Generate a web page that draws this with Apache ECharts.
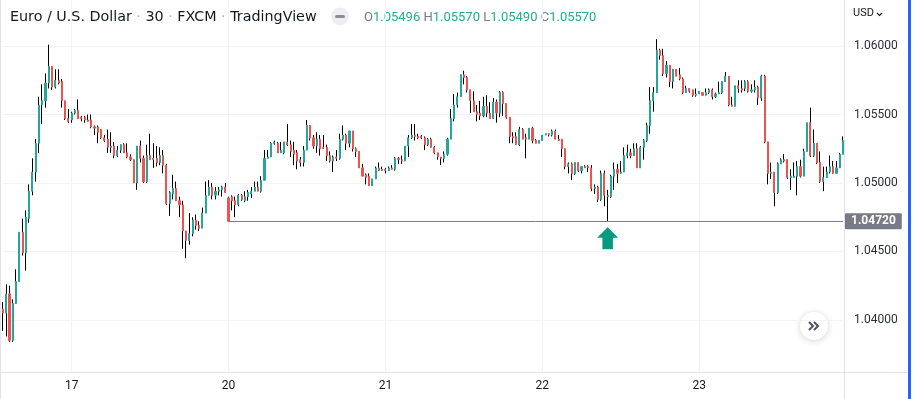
<!DOCTYPE html>
<html>
<head>
<meta charset="utf-8">
<title>EUR/USD 30</title>
<script src="https://cdn.jsdelivr.net/npm/echarts@6/dist/echarts.min.js"></script>
<style>
  html, body { margin: 0; padding: 0; background: #fff; }
  #chart { width: 913px; height: 399px; }
</style>
</head>
<body>
<div id="chart"></div>
<script>
// 30 min candles: [open, close, low, high]
const candles = [
  [1.0408, 1.0405, 1.0392, 1.0413], [1.0405, 1.0419, 1.0388, 1.0426], [1.0419, 1.0385, 1.0384, 1.0425], [1.0385, 1.0412, 1.0384, 1.0415],
  [1.0412, 1.0428, 1.0412, 1.0437], [1.0428, 1.0464, 1.0428, 1.0464], [1.0464, 1.0449, 1.0447, 1.0474], [1.0449, 1.0475, 1.0436, 1.0480],
  [1.0474, 1.0494, 1.0471, 1.0499], [1.0494, 1.0508, 1.0491, 1.0518], [1.0508, 1.0529, 1.0501, 1.0532], [1.0529, 1.0557, 1.0522, 1.0563],
  [1.0557, 1.0560, 1.0543, 1.0572], [1.0560, 1.0573, 1.0555, 1.0580], [1.0573, 1.0585, 1.0569, 1.0601], [1.0585, 1.0570, 1.0568, 1.0585],
  [1.0570, 1.0575, 1.0569, 1.0583], [1.0575, 1.0573, 1.0572, 1.0583], [1.0574, 1.0560, 1.0555, 1.0576], [1.0560, 1.0547, 1.0546, 1.0560],
  [1.0547, 1.0545, 1.0544, 1.0554], [1.0546, 1.0551, 1.0544, 1.0552], [1.0551, 1.0553, 1.0550, 1.0554], [1.0553, 1.0547, 1.0547, 1.0561],
  [1.0548, 1.0547, 1.0545, 1.0549], [1.0548, 1.0546, 1.0544, 1.0549], [1.0546, 1.0545, 1.0545, 1.0550], [1.0546, 1.0541, 1.0540, 1.0550],
  [1.0541, 1.0540, 1.0535, 1.0542], [1.0541, 1.0537, 1.0529, 1.0542], [1.0539, 1.0533, 1.0532, 1.0539], [1.0533, 1.0531, 1.0530, 1.0535],
  [1.0532, 1.0526, 1.0522, 1.0539], [1.0526, 1.0527, 1.0522, 1.0537], [1.0527, 1.0520, 1.0518, 1.0530], [1.0520, 1.0524, 1.0519, 1.0527],
  [1.0524, 1.0528, 1.0522, 1.0528], [1.0528, 1.0522, 1.0522, 1.0529], [1.0522, 1.0519, 1.0518, 1.0529], [1.0519, 1.0517, 1.0516, 1.0521],
  [1.0517, 1.0500, 1.0500, 1.0517], [1.0500, 1.0527, 1.0495, 1.0527], [1.0527, 1.0518, 1.0515, 1.0531], [1.0518, 1.0501, 1.0500, 1.0520],
  [1.0501, 1.0520, 1.0500, 1.0528], [1.0520, 1.0517, 1.0517, 1.0536], [1.0517, 1.0518, 1.0511, 1.0529], [1.0518, 1.0515, 1.0512, 1.0527],
  [1.0515, 1.0520, 1.0513, 1.0526], [1.0520, 1.0513, 1.0507, 1.0524], [1.0513, 1.0485, 1.0484, 1.0514], [1.0485, 1.0493, 1.0476, 1.0494],
  [1.0492, 1.0496, 1.0488, 1.0506], [1.0496, 1.0487, 1.0487, 1.0501], [1.0487, 1.0484, 1.0475, 1.0490], [1.0484, 1.0465, 1.0452, 1.0487],
  [1.0465, 1.0458, 1.0445, 1.0465], [1.0458, 1.0463, 1.0455, 1.0478], [1.0463, 1.0473, 1.0461, 1.0475], [1.0473, 1.0469, 1.0466, 1.0477],
  [1.0469, 1.0467, 1.0465, 1.0472], [1.0467, 1.0478, 1.0467, 1.0482], [1.0478, 1.0491, 1.0478, 1.0501], [1.0491, 1.0497, 1.0491, 1.0502],
  [1.0497, 1.0491, 1.0488, 1.0500], [1.0491, 1.0494, 1.0488, 1.0497], [1.0494, 1.0495, 1.0491, 1.0497], [1.0495, 1.0497, 1.0490, 1.0498],
  [1.0497, 1.0493, 1.0493, 1.0500], [1.0489, 1.0472, 1.0472, 1.0490], [1.0490, 1.0487, 1.0480, 1.0491], [1.0487, 1.0484, 1.0475, 1.0490],
  [1.0484, 1.0491, 1.0483, 1.0492], [1.0491, 1.0488, 1.0487, 1.0492], [1.0487, 1.0490, 1.0486, 1.0494], [1.0490, 1.0493, 1.0487, 1.0495],
  [1.0492, 1.0494, 1.0489, 1.0497], [1.0494, 1.0497, 1.0494, 1.0501], [1.0497, 1.0494, 1.0494, 1.0501], [1.0494, 1.0502, 1.0493, 1.0505],
  [1.0502, 1.0518, 1.0502, 1.0524], [1.0518, 1.0519, 1.0518, 1.0524], [1.0519, 1.0529, 1.0519, 1.0530], [1.0529, 1.0530, 1.0528, 1.0531],
  [1.0529, 1.0522, 1.0522, 1.0530], [1.0522, 1.0524, 1.0522, 1.0530], [1.0522, 1.0530, 1.0521, 1.0530], [1.0530, 1.0528, 1.0527, 1.0543],
  [1.0528, 1.0523, 1.0519, 1.0531], [1.0524, 1.0521, 1.0513, 1.0530], [1.0522, 1.0516, 1.0510, 1.0524], [1.0517, 1.0515, 1.0512, 1.0519],
  [1.0515, 1.0524, 1.0512, 1.0527], [1.0524, 1.0542, 1.0524, 1.0546], [1.0542, 1.0533, 1.0531, 1.0542], [1.0533, 1.0527, 1.0525, 1.0535],
  [1.0527, 1.0532, 1.0522, 1.0537], [1.0532, 1.0525, 1.0520, 1.0535], [1.0526, 1.0525, 1.0525, 1.0535], [1.0526, 1.0520, 1.0516, 1.0528],
  [1.0520, 1.0516, 1.0515, 1.0523], [1.0516, 1.0519, 1.0508, 1.0520], [1.0519, 1.0518, 1.0516, 1.0524], [1.0518, 1.0532, 1.0517, 1.0536],
  [1.0532, 1.0535, 1.0531, 1.0542], [1.0535, 1.0529, 1.0524, 1.0536], [1.0529, 1.0538, 1.0526, 1.0538], [1.0538, 1.0525, 1.0523, 1.0538],
  [1.0525, 1.0523, 1.0519, 1.0526], [1.0523, 1.0511, 1.0511, 1.0523], [1.0511, 1.0505, 1.0505, 1.0514], [1.0506, 1.0504, 1.0499, 1.0507],
  [1.0505, 1.0498, 1.0498, 1.0507], [1.0498, 1.0503, 1.0498, 1.0503], [1.0503, 1.0511, 1.0503, 1.0512], [1.0511, 1.0509, 1.0509, 1.0515],
  [1.0509, 1.0510, 1.0509, 1.0512], [1.0510, 1.0509, 1.0507, 1.0511], [1.0509, 1.0511, 1.0509, 1.0512], [1.0511, 1.0510, 1.0510, 1.0513],
  [1.0510, 1.0518, 1.0509, 1.0519], [1.0518, 1.0517, 1.0514, 1.0519], [1.0517, 1.0516, 1.0514, 1.0520], [1.0516, 1.0527, 1.0516, 1.0527],
  [1.0527, 1.0533, 1.0519, 1.0535], [1.0533, 1.0535, 1.0532, 1.0543], [1.0535, 1.0534, 1.0531, 1.0543], [1.0534, 1.0533, 1.0532, 1.0536],
  [1.0534, 1.0533, 1.0532, 1.0535], [1.0533, 1.0528, 1.0524, 1.0534], [1.0528, 1.0532, 1.0527, 1.0533], [1.0532, 1.0526, 1.0526, 1.0533],
  [1.0526, 1.0522, 1.0521, 1.0527], [1.0522, 1.0519, 1.0517, 1.0522], [1.0519, 1.0518, 1.0513, 1.0519], [1.0518, 1.0521, 1.0515, 1.0523],
  [1.0521, 1.0532, 1.0520, 1.0533], [1.0532, 1.0547, 1.0532, 1.0554], [1.0547, 1.0557, 1.0545, 1.0565], [1.0557, 1.0563, 1.0555, 1.0566],
  [1.0563, 1.0579, 1.0563, 1.0579], [1.0579, 1.0577, 1.0572, 1.0582], [1.0577, 1.0568, 1.0566, 1.0578], [1.0568, 1.0560, 1.0551, 1.0568],
  [1.0560, 1.0552, 1.0552, 1.0567], [1.0552, 1.0550, 1.0545, 1.0557], [1.0551, 1.0549, 1.0546, 1.0560], [1.0549, 1.0556, 1.0548, 1.0563],
  [1.0556, 1.0551, 1.0548, 1.0564], [1.0551, 1.0547, 1.0547, 1.0559], [1.0547, 1.0559, 1.0547, 1.0562], [1.0559, 1.0551, 1.0544, 1.0561],
  [1.0551, 1.0566, 1.0548, 1.0567], [1.0566, 1.0558, 1.0549, 1.0567], [1.0558, 1.0548, 1.0547, 1.0558], [1.0548, 1.0534, 1.0529, 1.0548],
  [1.0534, 1.0533, 1.0529, 1.0537], [1.0534, 1.0528, 1.0528, 1.0537], [1.0528, 1.0539, 1.0527, 1.0541], [1.0539, 1.0532, 1.0532, 1.0540],
  [1.0533, 1.0532, 1.0518, 1.0536], [1.0532, 1.0540, 1.0532, 1.0540], [1.0540, 1.0531, 1.0529, 1.0541], [1.0531, 1.0529, 1.0529, 1.0532],
  [1.0529, 1.0531, 1.0529, 1.0531], [1.0531, 1.0535, 1.0531, 1.0535], [1.0535, 1.0536, 1.0535, 1.0536], [1.0536, 1.0535, 1.0534, 1.0536],
  [1.0535, 1.0538, 1.0534, 1.0539], [1.0538, 1.0532, 1.0532, 1.0539], [1.0532, 1.0531, 1.0531, 1.0535], [1.0532, 1.0525, 1.0519, 1.0532],
  [1.0525, 1.0512, 1.0510, 1.0525], [1.0512, 1.0514, 1.0507, 1.0515], [1.0514, 1.0507, 1.0502, 1.0515], [1.0507, 1.0515, 1.0506, 1.0515],
  [1.0515, 1.0509, 1.0508, 1.0515], [1.0509, 1.0512, 1.0507, 1.0512], [1.0512, 1.0511, 1.0511, 1.0513], [1.0512, 1.0511, 1.0508, 1.0513],
  [1.0511, 1.0496, 1.0494, 1.0513], [1.0496, 1.0497, 1.0492, 1.0499], [1.0497, 1.0488, 1.0486, 1.0498], [1.0488, 1.0507, 1.0487, 1.0509],
  [1.0507, 1.0491, 1.0483, 1.0509], [1.0491, 1.0490, 1.0472, 1.0495], [1.0490, 1.0505, 1.0489, 1.0506], [1.0505, 1.0510, 1.0495, 1.0515],
  [1.0510, 1.0507, 1.0500, 1.0514], [1.0507, 1.0508, 1.0507, 1.0516], [1.0508, 1.0520, 1.0508, 1.0526], [1.0520, 1.0522, 1.0518, 1.0528],
  [1.0522, 1.0520, 1.0518, 1.0525], [1.0520, 1.0525, 1.0520, 1.0529], [1.0525, 1.0511, 1.0511, 1.0529], [1.0511, 1.0526, 1.0511, 1.0527],
  [1.0526, 1.0531, 1.0517, 1.0532], [1.0531, 1.0542, 1.0530, 1.0544], [1.0542, 1.0560, 1.0536, 1.0570], [1.0560, 1.0566, 1.0552, 1.0570],
  [1.0566, 1.0597, 1.0566, 1.0605], [1.0597, 1.0593, 1.0590, 1.0598], [1.0593, 1.0580, 1.0578, 1.0598], [1.0580, 1.0586, 1.0577, 1.0589],
  [1.0586, 1.0574, 1.0570, 1.0586], [1.0574, 1.0583, 1.0569, 1.0583], [1.0583, 1.0578, 1.0578, 1.0583], [1.0579, 1.0576, 1.0575, 1.0584],
  [1.0576, 1.0566, 1.0565, 1.0577], [1.0566, 1.0569, 1.0566, 1.0571], [1.0569, 1.0567, 1.0566, 1.0569], [1.0568, 1.0564, 1.0563, 1.0568],
  [1.0564, 1.0565, 1.0563, 1.0569], [1.0565, 1.0567, 1.0565, 1.0567], [1.0566, 1.0564, 1.0564, 1.0566], [1.0564, 1.0566, 1.0564, 1.0569],
  [1.0566, 1.0568, 1.0565, 1.0569], [1.0568, 1.0563, 1.0561, 1.0569], [1.0563, 1.0565, 1.0562, 1.0566], [1.0565, 1.0566, 1.0565, 1.0574],
  [1.0566, 1.0574, 1.0565, 1.0574], [1.0574, 1.0578, 1.0574, 1.0581], [1.0578, 1.0557, 1.0556, 1.0578], [1.0557, 1.0556, 1.0556, 1.0563],
  [1.0556, 1.0571, 1.0556, 1.0571], [1.0571, 1.0569, 1.0566, 1.0575], [1.0569, 1.0568, 1.0566, 1.0575], [1.0569, 1.0574, 1.0567, 1.0575],
  [1.0574, 1.0567, 1.0566, 1.0575], [1.0567, 1.0568, 1.0566, 1.0572], [1.0568, 1.0570, 1.0566, 1.0575], [1.0570, 1.0562, 1.0557, 1.0571],
  [1.0562, 1.0578, 1.0560, 1.0579], [1.0578, 1.0530, 1.0529, 1.0579], [1.0530, 1.0507, 1.0499, 1.0530], [1.0507, 1.0508, 1.0503, 1.0515],
  [1.0508, 1.0493, 1.0483, 1.0508], [1.0493, 1.0514, 1.0492, 1.0515], [1.0514, 1.0517, 1.0514, 1.0518], [1.0517, 1.0516, 1.0515, 1.0521],
  [1.0517, 1.0504, 1.0503, 1.0517], [1.0504, 1.0505, 1.0495, 1.0510], [1.0504, 1.0505, 1.0504, 1.0515], [1.0505, 1.0512, 1.0491, 1.0516],
  [1.0512, 1.0505, 1.0504, 1.0517], [1.0505, 1.0523, 1.0505, 1.0525], [1.0523, 1.0544, 1.0523, 1.0544], [1.0544, 1.0520, 1.0519, 1.0555],
  [1.0520, 1.0529, 1.0519, 1.0539], [1.0529, 1.0515, 1.0514, 1.0529], [1.0515, 1.0501, 1.0500, 1.0523], [1.0501, 1.0504, 1.0494, 1.0512],
  [1.0504, 1.0508, 1.0504, 1.0512], [1.0508, 1.0512, 1.0507, 1.0520], [1.0512, 1.0507, 1.0507, 1.0516], [1.0507, 1.0511, 1.0507, 1.0516],
  [1.0511, 1.0521, 1.0511, 1.0522], [1.0521, 1.0531, 1.0521, 1.0534]
]

// day labels on the time axis and the bar where each day starts
const dayLabels = ['17', '20', '21', '22', '23']
const dayStarts = [21, 69, 117, 165, 213]

// horizontal level drawn from the Monday open, and the bar that touched it
const levelPrice = 1.0472
const levelFrom = 69
const touchBar = 185

// visible price range of the pane
const priceMin = 1.0362
const priceMax = 1.06336

// legend values shown in the header
const ohlcKeys = ['O', 'H', 'L', 'C']
const ohlcValues = ['1.05496', '1.05570', '1.05490', '1.05570']

const UP = '#26a69a'
const DOWN = '#ef5350'
const GRID = '#f0f3fa'
const BORDER = '#e0e3eb'
const FONT = 'Roboto, "Liberation Sans", sans-serif'
const TITLE_FONT = '"DejaVu Sans", Roboto, sans-serif'

const categories = candles.map((c, i) => {
  const k = dayStarts.indexOf(i)
  return k >= 0 ? dayLabels[k] : ''
})
const isDayStart = (i) => dayStarts.includes(i)

// bodies only, so the black wicks underneath stay visible
const bodies = candles.map(([o, c]) => [o, c, Math.min(o, c), Math.max(o, c)])

const chart = echarts.init(document.getElementById('chart'), null, { renderer: 'canvas' })

chart.setOption({
  animation: false,
  backgroundColor: '#fff',
  grid: { left: 3, right: 70, top: 0, bottom: 27 },
  xAxis: {
    type: 'category',
    data: categories,
    boundaryGap: false,
    axisLine: { show: false },
    axisTick: { show: false },
    axisLabel: {
      interval: isDayStart,
      color: '#131722',
      fontSize: 12,
      fontFamily: FONT,
      margin: 8
    },
    splitLine: { show: true, interval: isDayStart, lineStyle: { color: GRID, width: 1 } }
  },
  yAxis: {
    type: 'value',
    position: 'right',
    min: priceMin,
    max: priceMax,
    splitNumber: 5,
    axisLine: { show: false },
    axisTick: { show: false },
    axisLabel: {
      formatter: v => v.toFixed(5),
      color: '#2a2e39',
      fontSize: 12,
      fontFamily: FONT,
      margin: 11,
      showMinLabel: false,
      showMaxLabel: false
    },
    splitLine: { show: true, showMinLine: false, showMaxLine: false, lineStyle: { color: GRID, width: 1 } }
  },
  series: [
    {
      name: 'wicks',
      type: 'candlestick',
      silent: true,
      data: candles,
      barWidth: 0.2,
      itemStyle: {
        color: '#000', color0: '#000',
        borderColor: '#000', borderColor0: '#000', borderColorDoji: '#000',
        borderWidth: 1
      }
    },
    {
      name: 'EURUSD',
      type: 'candlestick',
      silent: true,
      data: bodies,
      barWidth: 1.6,
      itemStyle: {
        color: UP, color0: DOWN,
        borderColor: UP, borderColor0: DOWN, borderColorDoji: DOWN,
        borderWidth: 1
      },
      markLine: {
        silent: true,
        symbol: 'none',
        lineStyle: { color: '#787b86', width: 1, type: 'solid' },
        label: {
          show: true,
          position: 'end',
          distance: 2,
          formatter: levelPrice.toFixed(5),
          backgroundColor: '#787b86',
          color: '#fff',
          fontWeight: 'bold',
          fontSize: 12,
          fontFamily: FONT,
          padding: [2, 6, 2, 6],
          borderRadius: 1
        },
        data: [[
          { coord: [levelFrom, levelPrice] },
          { coord: [candles.length - 1, levelPrice] }
        ]]
      },
      markPoint: {
        silent: true,
        symbol: 'path://M10,0 L20,10 L15,10 L15,21 L5,21 L5,10 L0,10 Z',
        symbolSize: [21, 22],
        symbolOffset: [0, 17],
        itemStyle: { color: '#089981' },
        label: { show: false },
        data: [{ coord: [touchBar, levelPrice] }]
      }
    }
  ],
  graphic: [
    // pane borders
    { type: 'line', silent: true, shape: { x1: 844.5, y1: 0, x2: 844.5, y2: 399 }, style: { stroke: BORDER, lineWidth: 1 } },
    { type: 'line', silent: true, shape: { x1: 0, y1: 372.5, x2: 908, y2: 372.5 }, style: { stroke: BORDER, lineWidth: 1 } },
    { type: 'line', silent: true, shape: { x1: 0.5, y1: 0, x2: 0.5, y2: 399 }, style: { stroke: BORDER, lineWidth: 1 } },
    { type: 'rect', silent: true, shape: { x: 908, y: 0, width: 3, height: 399 }, style: { fill: '#2962ff' } },
    // header
    {
      type: 'text', silent: true, left: 10, top: 10,
      style: {
        text: 'Euro / U.S. Dollar {d|·} 30 {d|·} FXCM {d|·} TradingView',
        fill: '#131722',
        font: '14.3px ' + TITLE_FONT,
        rich: { d: { fill: '#b2b5be', font: '14.3px ' + TITLE_FONT } }
      }
    },
    { type: 'circle', silent: true, shape: { cx: 340, cy: 16.5, r: 9 }, style: { fill: '#edeef2' } },
    { type: 'rect', silent: true, shape: { x: 335, y: 15, width: 10, height: 3, r: 1.5 }, style: { fill: '#8a8d98' } },
    {
      type: 'text', silent: true, left: 364, top: 11,
      style: {
        text: ohlcKeys.map((k, i) => '{k|' + k + '}{v|' + ohlcValues[i] + '}').join(' '),
        font: '13px ' + FONT,
        rich: {
          k: { fill: '#787b86', font: '13px ' + FONT },
          v: { fill: '#22ab94', font: '13px ' + FONT }
        }
      }
    },
    // currency switch on the price scale
    {
      type: 'text', silent: true, left: 853, top: 8,
      style: { text: 'USD', fill: '#131722', font: '11px ' + FONT }
    },
    { type: 'polyline', silent: true, shape: { points: [[877, 13], [879.5, 15.5], [882, 13]] }, style: { stroke: '#131722', lineWidth: 1.2, fill: 'none' } },
    // scroll to realtime button
    {
      type: 'circle', silent: true, shape: { cx: 814, cy: 326, r: 14 },
      style: { fill: '#fff', shadowBlur: 6, shadowColor: 'rgba(0,0,0,0.18)', shadowOffsetY: 1 }
    },
    { type: 'polyline', silent: true, shape: { points: [[809, 322], [813, 326], [809, 330]] }, style: { stroke: '#50535e', lineWidth: 2, fill: 'none' } },
    { type: 'polyline', silent: true, shape: { points: [[814, 322], [818, 326], [814, 330]] }, style: { stroke: '#50535e', lineWidth: 2, fill: 'none' } }
  ]
})
</script>
</body>
</html>
